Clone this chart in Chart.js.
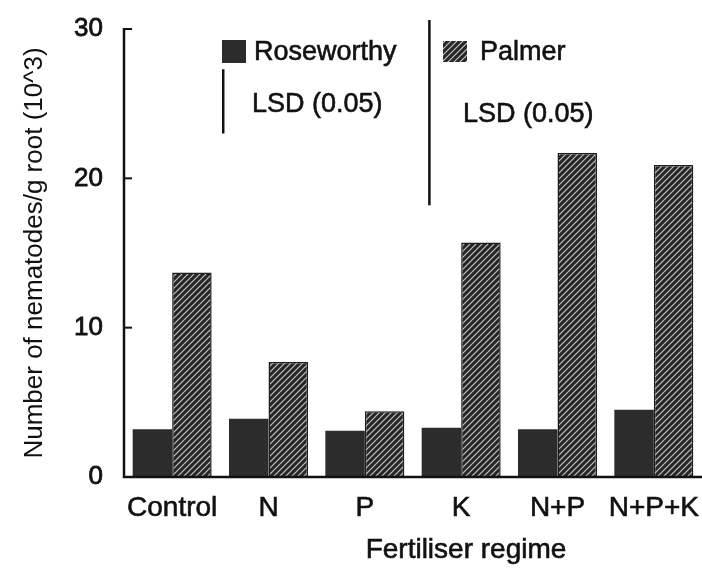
<!DOCTYPE html>
<html>
<head>
<meta charset="utf-8">
<script src="https://cdn.jsdelivr.net/npm/chart.js@4"></script>
<style>
  html, body { margin: 0; padding: 0; background: #fff; }
  canvas { display: block; }
</style>
</head>
<body>
<canvas id="chart" width="702" height="573"></canvas>
<script>
// values (x 10^3 nematodes per g root)
const regimes = ['Control', 'N', 'P', 'K', 'N+P', 'N+P+K'];
const roseworthy = [3.2, 3.9, 3.1, 3.3, 3.2, 4.5];
const palmer = [13.7, 7.7, 4.4, 15.7, 21.7, 20.9];
const yTicks = [0, 10, 20, 30];
// LSD (0.05) bars: bottom and top value of each line
const roseworthyLsd = [23.0, 27.3];
const palmerLsd = [18.2, 30.6];

const FONT = '"Liberation Sans", Arial, Helvetica, sans-serif';
const INK = '#111';
const DARK = '#2c2c2c';

function makeHatch() {
    const size = 6;
    const c = document.createElement('canvas');
    c.width = size;
    c.height = size;
    const g = c.getContext('2d');
    g.fillStyle = '#262626';
    g.fillRect(0, 0, size, size);
    g.strokeStyle = '#c4c4c4';
    g.lineWidth = 1.2;
    g.beginPath();
    g.moveTo(0, size); g.lineTo(size, 0);
    g.moveTo(-1, 1); g.lineTo(1, -1);
    g.moveTo(size - 1, size + 1); g.lineTo(size + 1, size - 1);
    g.stroke();
    return g.createPattern(c, 'repeat');
}

const ctx = document.getElementById('chart').getContext('2d');
const hatch = makeHatch();

function heavyText(ctx, text, x, y) {
    ctx.strokeText(text, x, y);
    ctx.fillText(text, x, y);
}

// axes, inward tick marks, LSD lines, legend and x title
const figureExtras = {
    id: 'figureExtras',
    afterDraw(chart) {
        const { ctx, chartArea } = chart;
        const x = chart.scales.x;
        const y = chart.scales.y;
        const left = chartArea.left;
        const y0 = y.getPixelForValue(0);

        ctx.save();
        ctx.strokeStyle = INK;
        ctx.lineWidth = 2.5;
        ctx.lineCap = 'butt';

        // axis lines
        ctx.beginPath();
        ctx.moveTo(left, y.getPixelForValue(yTicks[yTicks.length - 1]) - 1);
        ctx.lineTo(left, y0);
        ctx.lineTo(chartArea.right, y0);
        ctx.stroke();

        // tick marks point into the plot
        ctx.lineWidth = 2;
        yTicks.forEach(v => {
            if (v === 0) return;
            const py = y.getPixelForValue(v);
            ctx.beginPath();
            ctx.moveTo(left, py);
            ctx.lineTo(left + 8, py);
            ctx.stroke();
        });

        // LSD lines, placed between categories
        const step = x.getPixelForValue(1) - x.getPixelForValue(0);
        const lsdX1 = x.getPixelForValue(0) + step * 0.53;
        const lsdX2 = x.getPixelForValue(2) + step * 0.67;
        ctx.lineWidth = 2.5;
        ctx.beginPath();
        ctx.moveTo(lsdX1, y.getPixelForValue(roseworthyLsd[0]));
        ctx.lineTo(lsdX1, y.getPixelForValue(roseworthyLsd[1]));
        ctx.moveTo(lsdX2, y.getPixelForValue(palmerLsd[0]));
        ctx.lineTo(lsdX2, y.getPixelForValue(palmerLsd[1]));
        ctx.stroke();

        // legend
        ctx.fillStyle = DARK;
        ctx.fillRect(222, 40, 24, 23);
        ctx.fillStyle = hatch;
        ctx.fillRect(443, 41, 24, 21);

        ctx.fillStyle = INK;
        ctx.lineWidth = 0.6;
        ctx.font = '27px ' + FONT;
        ctx.textBaseline = 'middle';
        ctx.textAlign = 'left';
        heavyText(ctx, 'Roseworthy', 254, 53);
        heavyText(ctx, 'LSD (0.05)', 252, 105);
        heavyText(ctx, 'Palmer', 480, 53);
        heavyText(ctx, 'LSD (0.05)', 463, 115);

        // x axis title sits right of centre in the original
        ctx.font = '28px ' + FONT;
        ctx.textAlign = 'center';
        heavyText(ctx, 'Fertiliser regime', 466, 550);
        ctx.restore();
    }
};

new Chart(ctx, {
    type: 'bar',
    data: {
        labels: regimes,
        datasets: [{
            label: 'Roseworthy',
            data: roseworthy,
            backgroundColor: DARK,
            borderColor: DARK,
            borderWidth: 0
        }, {
            label: 'Palmer',
            data: palmer,
            backgroundColor: hatch,
            borderColor: '#1e1e1e',
            borderWidth: 1.5
        }]
    },
    options: {
        responsive: false,
        animation: false,
        barPercentage: 1.0,
        categoryPercentage: 0.82,
        layout: { padding: { top: 29, right: 0, bottom: 0, left: 0 } },
        plugins: {
            legend: { display: false },
            tooltip: { enabled: false }
        },
        scales: {
            x: {
                grid: { display: false, drawTicks: false },
                border: { display: false },
                ticks: {
                    color: INK,
                    padding: 14,
                    maxRotation: 0,
                    autoSkip: false,
                    textStrokeColor: INK,
                    textStrokeWidth: 0.6,
                    font: { family: FONT, size: 28 }
                },
                afterFit(s) {
                    s.height = 96;
                    s.paddingLeft = 0;
                    s.paddingRight = 0;
                }
            },
            y: {
                min: 0,
                max: 30,
                grid: { display: false, drawTicks: false },
                border: { display: false },
                afterBuildTicks(s) {
                    s.ticks = yTicks.map(v => ({ value: v }));
                },
                ticks: {
                    color: INK,
                    padding: 21,
                    textStrokeColor: INK,
                    textStrokeWidth: 0.8,
                    font: { family: FONT, size: 26 }
                },
                title: {
                    display: true,
                    text: 'Number of nematodes/g root (10^3)',
                    color: INK,
                    padding: { top: 19, bottom: 0 },
                    font: { family: FONT, size: 26 }
                },
                afterFit(s) {
                    s.width = 124;
                    s.paddingTop = 0;
                    s.paddingBottom = 0;
                }
            }
        }
    },
    plugins: [figureExtras]
});
</script>
</body>
</html>
